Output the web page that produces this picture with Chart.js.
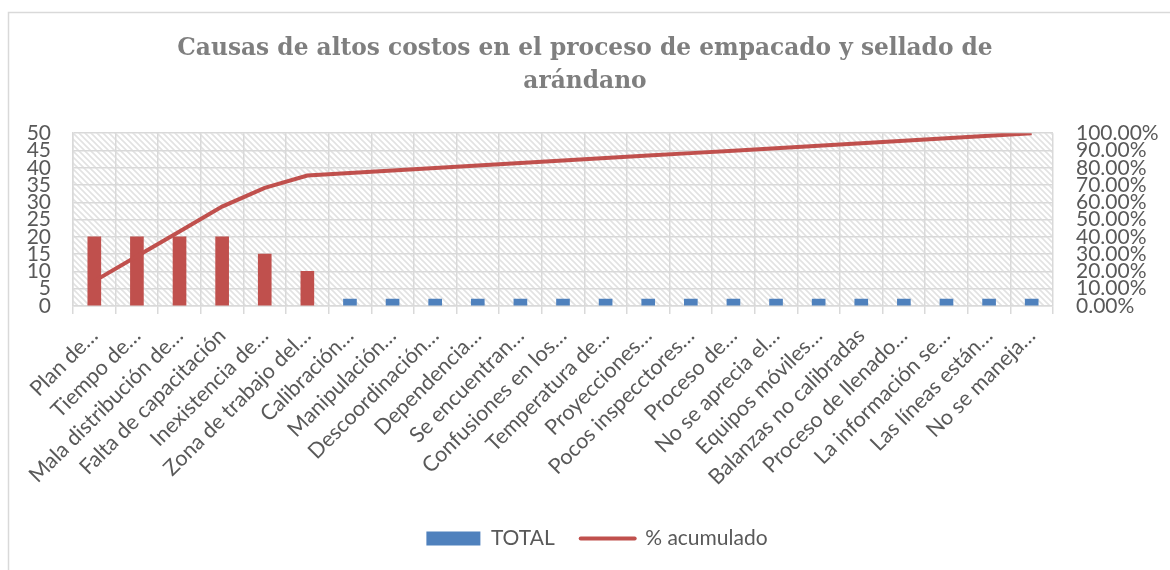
<!DOCTYPE html>
<html>
<head>
<meta charset="utf-8">
<script src="https://cdn.jsdelivr.net/npm/chart.js@4/dist/chart.umd.min.js"></script>
<style>
  html, body { margin: 0; padding: 0; background: #fff; }
  #wrap { width: 1170px; height: 570px; }
</style>
</head>
<body>
<div id="wrap"><canvas id="paretoChart" width="1170" height="570"></canvas></div>
<script>
const categories = [
  'Plan de…', 'Tiempo de…', 'Mala distribución de…', 'Falta de capacitación',
  'Inexistencia de…', 'Zona de trabajo del…', 'Calibración…', 'Manipulación…',
  'Descoordinación…', 'Dependencia…', 'Se encuentran…', 'Confusiones en los…',
  'Temperatura de…', 'Proyecciones…', 'Pocos inspecctores…', 'Proceso de…',
  'No se aprecia el…', 'Equipos móviles…', 'Balanzas no calibradas',
  'Proceso de llenado…', 'La información se…', 'Las líneas están…', 'No se maneja…'
]

const totals = [20, 20, 20, 20, 15, 10, 2, 2, 2, 2, 2, 2, 2, 2, 2, 2, 2, 2, 2, 2, 2, 2, 2]

const cumulative = [
  0.1439, 0.2878, 0.4317, 0.5755, 0.6835, 0.7554, 0.7698, 0.7842,
  0.7986, 0.8129, 0.8273, 0.8417, 0.8561, 0.8705, 0.8849, 0.8993,
  0.9137, 0.9281, 0.9424, 0.9568, 0.9712, 0.9856, 1.0
]

const leftTicks = [0, 5, 10, 15, 20, 25, 30, 35, 40, 45, 50]
const rightTicks = [0, 0.1, 0.2, 0.3, 0.4, 0.5, 0.6, 0.7, 0.8, 0.9, 1.0]

const titleLines = ['Causas de altos costos en el proceso de empacado y sellado de', 'arándano']

// the "vital few" causes are highlighted in red
const vitalFew = 6

const BLUE = '#4F81BD'
const RED = '#C0504D'
const TEXT = '#595959'
const GRID = '#D9D9D9'
const FONT = 'Lato, "Liberation Sans", sans-serif'

function makeHatch() {
  const c = document.createElement('canvas')
  c.width = 6
  c.height = 6
  const g = c.getContext('2d')
  g.fillStyle = '#ffffff'
  g.fillRect(0, 0, 6, 6)
  g.strokeStyle = '#e2e2e2'
  g.lineWidth = 1.6
  g.beginPath()
  g.moveTo(-1, -1)
  g.lineTo(7, 7)
  g.moveTo(-1, 5)
  g.lineTo(1, 7)
  g.moveTo(5, -1)
  g.lineTo(7, 1)
  g.stroke()
  return c
}

const backdrop = {
  id: 'backdrop',
  beforeDraw(chart) {
    const { ctx, chartArea } = chart
    ctx.save()
    ctx.fillStyle = '#ffffff'
    ctx.fillRect(0, 0, chart.width, chart.height)
    ctx.strokeStyle = GRID
    ctx.lineWidth = 1.5
    ctx.strokeRect(8.5, 12.5, chart.width + 20, chart.height + 20)
    ctx.fillStyle = ctx.createPattern(makeHatch(), 'repeat')
    ctx.fillRect(chartArea.left, chartArea.top, chartArea.right - chartArea.left, chartArea.bottom - chartArea.top)
    ctx.restore()
  }
}

// the original frame is wider than the picture, so its legend sits a bit right of centre
const nudgeLegend = {
  id: 'nudgeLegend',
  afterLayout(chart) {
    chart.legend.left += 12
    chart.legend.right += 12
  }
}

const plotBottom = 306
const bottomPad = 11

const ctx = document.getElementById('paretoChart').getContext('2d')
const chart = new Chart(ctx, {
  data: {
    labels: categories,
    datasets: [
      {
        type: 'line',
        label: '% acumulado',
        data: cumulative,
        yAxisID: 'y1',
        borderColor: RED,
        backgroundColor: RED,
        borderWidth: 4,
        pointRadius: 0,
        tension: 0,
        order: 0
      },
      {
        type: 'bar',
        label: 'TOTAL',
        data: totals,
        yAxisID: 'y',
        backgroundColor: c => c.dataIndex < vitalFew ? RED : BLUE,
        barThickness: 13,
        order: 1
      }
    ]
  },
  options: {
    responsive: false,
    animation: false,
    layout: { padding: { left: 0, right: 0, top: 0, bottom: bottomPad } },
    plugins: {
      title: {
        display: true,
        text: titleLines,
        color: '#7F7F7F',
        font: { family: '"DejaVu Serif", serif', size: 23.3, weight: 'bold', lineHeight: 1.4 },
        padding: { top: 33, bottom: 35 }
      },
      legend: {
        position: 'bottom',
        labels: {
          color: TEXT,
          font: { family: FONT, size: 21 },
          usePointStyle: true,
          pointStyleWidth: 54,
          boxHeight: 14,
          padding: 26,
          generateLabels: () => [
            { text: 'TOTAL', fillStyle: BLUE, strokeStyle: BLUE, lineWidth: 0, pointStyle: 'rect', fontColor: TEXT, datasetIndex: 1 },
            { text: '% acumulado', fillStyle: RED, strokeStyle: RED, lineWidth: 4, lineCap: 'round', pointStyle: 'line', fontColor: TEXT, datasetIndex: 0 }
          ]
        }
      },
      tooltip: { enabled: false }
    },
    scales: {
      x: {
        grid: { offset: true, color: GRID, lineWidth: 1.5, tickLength: 8, tickColor: GRID },
        border: { color: GRID, width: 1.5 },
        ticks: {
          color: TEXT,
          font: { family: FONT, size: 21.5 },
          autoSkip: false,
          maxRotation: 45,
          minRotation: 45,
          padding: 9
        },
        afterFit: scale => {
          scale.height = scale.chart.height - plotBottom - scale.chart.legend.height - bottomPad
        }
      },
      y: {
        position: 'left',
        min: 0,
        max: 50,
        afterBuildTicks: scale => { scale.ticks = leftTicks.map(v => ({ value: v })) },
        grid: { color: GRID, lineWidth: 1.5, drawTicks: false },
        border: { color: GRID, width: 1.5 },
        ticks: { color: TEXT, font: { family: FONT, size: 21, lineHeight: 1 }, autoSkip: false, padding: 22 },
        afterFit: scale => { scale.width = 73 }
      },
      y1: {
        position: 'right',
        min: 0,
        max: 1,
        afterBuildTicks: scale => { scale.ticks = rightTicks.map(v => ({ value: v })) },
        grid: { drawOnChartArea: false, drawTicks: false },
        border: { display: false },
        ticks: {
          color: TEXT,
          font: { family: FONT, size: 21, lineHeight: 1 },
          autoSkip: false,
          padding: 23,
          callback: v => (v * 100).toFixed(2) + '%'
        },
        afterFit: scale => { scale.width = 117 }
      }
    }
  },
  plugins: [backdrop, nudgeLegend]
})
</script>
</body>
</html>
